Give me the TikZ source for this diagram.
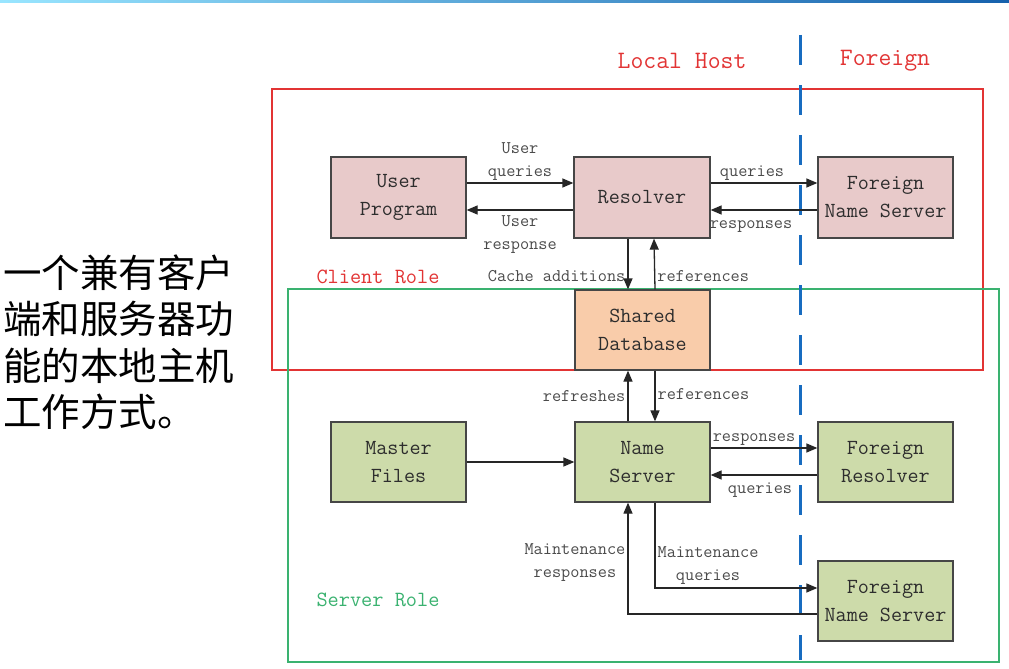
\documentclass[tikz,border=0pt]{standalone}
\usepackage{fontspec}
\usetikzlibrary{arrows.meta}
\newfontfamily\monof{Latin Modern Mono}
\newfontfamily\cjk{Noto Sans CJK SC}
\definecolor{pinkf}{RGB}{232,202,202}
\definecolor{orangef}{RGB}{249,204,170}
\definecolor{greenf}{RGB}{205,219,170}
\definecolor{redc}{RGB}{226,52,52}
\definecolor{greenc}{RGB}{58,178,112}
\definecolor{bluec}{RGB}{24,108,192}
\definecolor{boxd}{RGB}{70,70,70}
\definecolor{txt}{RGB}{45,45,45}
\definecolor{lbl}{RGB}{75,75,75}
\tikzset{
  box/.style={draw=boxd, line width=1.3pt, minimum width=135pt, minimum height=81pt,
    inner sep=0pt, align=center, text=txt, font=\monof\fontsize{21.5}{28}\selectfont},
  pinkbox/.style={box, fill=pinkf},
  orbox/.style={box, fill=orangef},
  grbox/.style={box, fill=greenf},
  conn/.style={draw=black!85, line width=1.3pt, -{Triangle[length=11pt,width=9pt]}},
  lab/.style={text=lbl, font=\monof\fontsize{17.8}{23}\selectfont, align=center, inner sep=2pt},
  title/.style={font=\monof\fontsize{25}{28}\selectfont},
  role/.style={font=\monof\fontsize{21.7}{25}\selectfont},
}
\begin{document}
\begin{tikzpicture}[x=1pt,y=-1pt]
\fill[white] (0,0) rectangle (1009,669);
\useasboundingbox (0,0) rectangle (1009,669);
\shade[left color=blue!25!cyan!40, right color=bluec!90!black] (0,0) rectangle (1009,3);

% role frames
\draw[redc, line width=1.8pt] (272,89) rectangle (983,370);
\draw[greenc, line width=1.8pt] (288,289) rectangle (999,662);

% divider
\draw[bluec, line width=3pt, dash pattern=on 30pt off 20pt] (800,35) -- (800,660);

% titles
\node[title, text=redc] (lh) at (682,61) {Local Host};
\node[title, text=redc] (fg) at (885,61) {Foreign};
\node[role, text=redc] (cr) at (378,277) {Client Role};
\node[role, text=greenc] (sr) at (378,600) {Server Role};

% nodes
\node[pinkbox] (up) at (398.5,197.5) {User\\Program};
\node[pinkbox, minimum width=136pt] (res) at (642,197.5) {Resolver};
\node[pinkbox] (fns1) at (885.5,197.5) {Foreign\\Name Server};
\node[orbox, minimum height=80pt] (db) at (642.5,330) {Shared\\Database};
\node[grbox, minimum height=80pt] (mf) at (398.5,462) {Master\\Files};
\node[grbox, minimum height=80pt] (ns) at (642.5,462) {Name\\Server};
\node[grbox, minimum height=80pt] (fr) at (885.5,462) {Foreign\\Resolver};
\node[grbox, minimum height=80pt] (fns2) at (885.5,601) {Foreign\\Name Server};

% connectors
\draw[conn] ([yshift=14.5pt]up.east) -- node[lab, above]{User\\queries} ([yshift=14.5pt]res.west);
\draw[conn] ([yshift=-12.5pt]res.west) -- node[lab, below, yshift=-3pt]{User\\response} ([yshift=-12.5pt]up.east);
\draw[conn] ([yshift=14.5pt]res.east) -- node[lab, above, xshift=-12pt]{queries} ([yshift=14.5pt]fns1.west);
\draw[conn] ([yshift=-12.5pt]fns1.west) -- node[lab, below, xshift=-13pt, yshift=-8pt]{responses} ([yshift=-12.5pt]res.east);

\draw[conn] ([xshift=-14pt]res.south) -- node[lab, left, pos=0.73]{Cache additions} ([xshift=-14.5pt]db.north);
\draw[conn] ([xshift=12.5pt]db.north) -- node[lab, right, pos=0.27]{references} ([xshift=12pt]res.south);
\draw[conn] ([xshift=-14.5pt]ns.north) -- node[lab, left, pos=0.5]{refreshes} ([xshift=-14.5pt]db.south);
\draw[conn] ([xshift=12.5pt]db.south) -- node[lab, right, pos=0.46]{references} ([xshift=12.5pt]ns.north);

\draw[conn] (mf.east) -- (ns.west);
\draw[conn] ([yshift=14pt]ns.east) -- node[lab, above, xshift=-10pt]{responses} ([yshift=14pt]fr.west);
\draw[conn] ([yshift=-13pt]fr.west) -- node[lab, below, xshift=-4pt, yshift=-5pt]{queries} ([yshift=-13pt]ns.east);

\draw[conn] ([xshift=12.5pt]ns.south) |- node[lab, right, pos=0.37]{Maintenance\\queries} ([yshift=13pt]fns2.west);
\draw[conn] ([yshift=-13pt]fns2.west) -| node[lab, left, pos=0.73]{Maintenance\\responses} ([xshift=-14.5pt]ns.south);

% side text
\node[anchor=west, align=left, inner sep=0pt, font=\cjk\fontsize{38.5}{46.5}\selectfont] (side) at (3,342)
  {一个兼有客户\\端和服务器功\\能的本地主机\\工作方式。};
\end{tikzpicture}
\end{document}
